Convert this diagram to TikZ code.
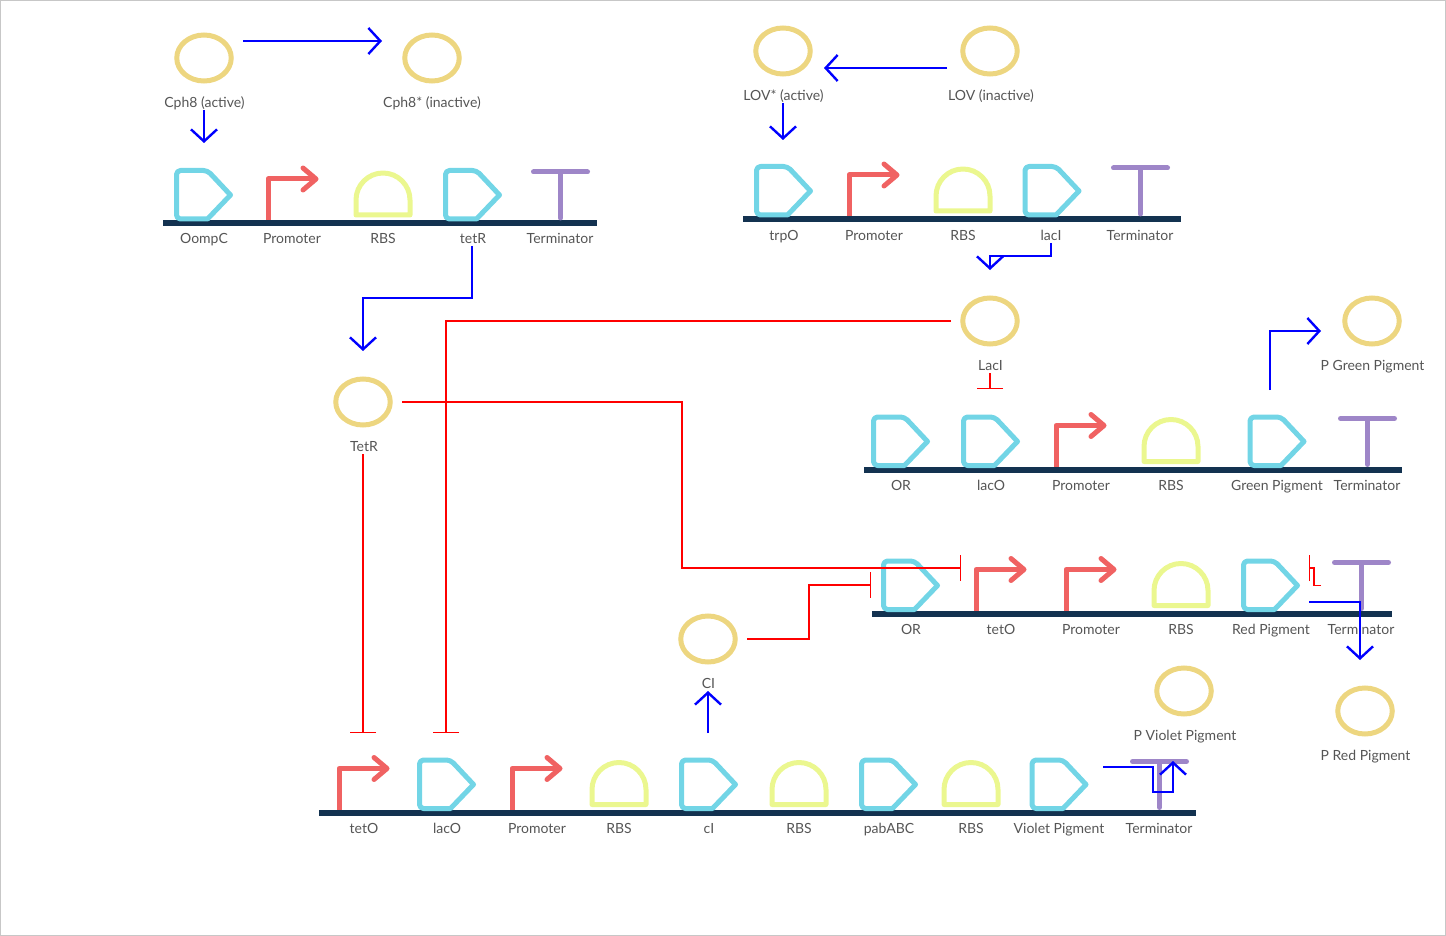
\documentclass[tikz,border=0pt]{standalone}
\usepackage{fontspec}
\setmainfont{Lato}
\usepackage{xcolor}
\usetikzlibrary{arrows.meta,shapes.geometric}

\definecolor{protcol}{HTML}{EDD680}
\definecolor{cdscol}{HTML}{72D5E6}
\definecolor{promcol}{HTML}{F06262}
\definecolor{rbscol}{HTML}{EBF78F}
\definecolor{termcol}{HTML}{9E86C8}
\definecolor{barcol}{HTML}{133250}
\definecolor{txtcol}{HTML}{555555}

\tikzset{
	protein/.style={draw=protcol,ellipse,line width=5pt,minimum width=54.5pt,minimum height=46pt,inner sep=0pt,outer sep=0pt},
	partlabel/.style={text=txtcol,font=\fontsize{14}{16}\selectfont,inner sep=0pt,text height=10pt,text depth=3pt},
	backbone/.style={barcol,line width=6pt},
	activate/.style={blue,line width=2pt,-{Straight Barb[length=12pt,width=26pt,line width=2.4pt]}},
	repress/.style={red,line width=1.7pt,-{Bar[width=26pt,line width=1.4pt]}},
	pics/cds/.style={code={
		\draw[cdscol,line width=5pt,line join=round] (31,-4) [rounded corners=4pt] -- (0,-4) -- (0,-52.5) -- (31,-52.5) [sharp corners] -- (54,-28) -- cycle;
	}},
	pics/promoter/.style={code={
		\draw[promcol,line width=5pt,line join=round] (0,-3) -- (0,-44) -- (46,-44);
		\draw[promcol,line width=5pt,line join=round,line cap=round] (35,-55) -- (48,-44) -- (35,-33);
	}},
	pics/rbs/.style={code={
		\draw[rbscol,line width=5pt,line join=round] (0,-8) -- (0,-23) arc[start angle=180,end angle=360,radius=27] -- (54,-8) -- cycle;
	}},
	pics/terminator/.style={code={
		\draw[termcol,line width=5pt,line cap=round] (-27,-51) -- (27,-51);
		\draw[termcol,line width=5pt,line cap=round] (0,-51) -- (0,-5);
	}},
}

\begin{document}
\begin{tikzpicture}[x=1pt,y=-1pt]
	\useasboundingbox (0,0) rectangle (1446,936);
	\draw[black!22,line width=1pt] (0.5,0.5) rectangle (1445.5,935.5);

	% backbones
	\draw[backbone] (163,223) -- (597,223);
	\draw[backbone] (743,219) -- (1181,219);
	\draw[backbone] (864,469.5) -- (1402,469.5);
	\draw[backbone] (872,613.5) -- (1392,613.5);
	\draw[backbone] (319,812.5) -- (1196,812.5);

	% parts
	\foreach \px/\py in {176.5/223,445.5/223,756.5/219,1025/219,873.5/469.5,963.5/469.5,1250/469.5,883.5/613.5,1243.5/613.5,419.5/812.5,681.5/812.5,861.5/812.5,1032/812.5}
		\pic at (\px,\py) {cds};
	\foreach \px/\py in {268/223,849/219,1056/469.5,976/613.5,1066/613.5,339/812.5,512/812.5}
		\pic at (\px,\py) {promoter};
	\foreach \px/\py in {356/223,936/219,1144/469.5,1154/613.5,592/812.5,772/812.5,944/812.5}
		\pic at (\px,\py) {rbs};
	\foreach \px/\py in {560.5/223,1140.5/219,1367.5/469.5,1361.5/613.5,1159.5/812.5}
		\pic at (\px,\py) {terminator};

	% part labels
	\foreach \lname/\lx/\ly/\ltext in {oompc/204/240/OompC,promA/292/240/Promoter,rbsA/383/240/RBS,tetrgene/473/240/tetR,termA/560/240/Terminator,
		trpo/784/237/trpO,promB/874/237/Promoter,rbsB/963/237/RBS,lacigene/1051/237/lacI,termB/1140/237/Terminator,
		orC/901/487/OR,lacoC/991/487/lacO,promC/1081/487/Promoter,rbsC/1171/487/RBS,greengene/1277/487/Green Pigment,termC/1367/487/Terminator,
		orD/911/631/OR,tetoD/1001/631/tetO,promD/1091/631/Promoter,rbsD/1181/631/RBS,redgene/1271/631/Red Pigment,termD/1361/631/Terminator,
		tetoE/364/830/tetO,lacoE/447/830/lacO,promE/537/830/Promoter,rbsE/619/830/RBS,cigene/709/830/cI,rbsF/799/830/RBS,pababc/889/830/pabABC,rbsG/971/830/RBS,violetgene/1059/830/Violet Pigment,termE/1159/830/Terminator}
		\node[partlabel] (\lname) at (\lx,\ly) {\ltext};

	% proteins
	\node[protein] (cphA) at (204,58) {};
	\node[protein] (cphI) at (432,58) {};
	\node[protein] (lovA) at (783,51) {};
	\node[protein] (lovI) at (990,51) {};
	\node[protein] (laci) at (990,321) {};
	\node[protein] (pgreen) at (1372,321) {};
	\node[protein] (tetr) at (363,402) {};
	\node[protein] (ci) at (708,639) {};
	\node[protein] (pviolet) at (1184,691) {};
	\node[protein] (pred) at (1365,711) {};

	\node[partlabel] (cphAlabel) at (204.5,104) {Cph8 (active)};
	\node[partlabel] (cphIlabel) at (432,104) {Cph8* (inactive)};
	\node[partlabel] (lovAlabel) at (783.5,97) {LOV* (active)};
	\node[partlabel] (lovIlabel) at (991,97) {LOV (inactive)};
	\node[partlabel] (lacilabel) at (990.5,367) {LacI};
	\node[partlabel] (pgreenlabel) at (1372.5,367) {P Green Pigment};
	\node[partlabel] (tetrlabel) at (364,448) {TetR};
	\node[partlabel] (cilabel) at (708.5,685) {CI};
	\node[partlabel] (pvioletlabel) at (1185,737) {P Violet Pigment};
	\node[partlabel] (predlabel) at (1365.5,757) {P Red Pigment};

	% free ends of the connectors
	\coordinate (cphAout) at (243,41);
	\coordinate (cphIin) at (382,41);
	\coordinate (cphAdown) at (204,110);
	\coordinate (oompcin) at (204,143);
	\coordinate (tetrgeneout) at (472,246);
	\coordinate (tetrin) at (363,351);
	\coordinate (lovIout) at (947,68);
	\coordinate (lovAin) at (824,68);
	\coordinate (lovAdown) at (783,103);
	\coordinate (trpoin) at (783,140);
	\coordinate (lacigeneout) at (1051,243);
	\coordinate (laciin) at (990,270);
	\coordinate (greenout) at (1270,390);
	\coordinate (pgreenin) at (1321,331);
	\coordinate (cigeneout) at (708,733);
	\coordinate (ciin) at (708,691);
	\coordinate (redout) at (1309,602);
	\coordinate (predin) at (1360,660);
	\coordinate (violetout) at (1103,767);
	\coordinate (pvioletin) at (1173,761);

	\coordinate (laciout) at (951,321);
	\coordinate (lacoEin) at (446,733);
	\coordinate (tetrout) at (402,402);
	\coordinate (tetoDin) at (961,568);
	\coordinate (tetrdown) at (363,454);
	\coordinate (tetoEin) at (363,733);
	\coordinate (ciout) at (747,639);
	\coordinate (orDin) at (871,585);
	\coordinate (lacidown) at (990,373);
	\coordinate (lacoCin) at (990,389);
	\coordinate (smallout) at (1321,585.5);
	\coordinate (smallin) at (1309,568);

	% activation
	\draw[activate] (cphAout) -- (cphIin);
	\draw[activate] (cphAdown) -- (oompcin);
	\draw[activate] (tetrgeneout) -- (472,298) -- (363,298) -- (tetrin);
	\draw[activate] (lovIout) -- (lovAin);
	\draw[activate] (lovAdown) -- (trpoin);
	\draw[activate] (lacigeneout) -- (1051,256) -- (990,256) -- (laciin);
	\draw[activate] (greenout) -- (1270,331) -- (pgreenin);
	\draw[activate] (cigeneout) -- (ciin);
	\draw[activate] (redout) -- (1360,602) -- (predin);
	\draw[activate] (violetout) -- (1153,767) -- (1153,792) -- (1173,792) -- (pvioletin);

	% repression
	\draw[repress] (laciout) -- (446,321) -- (lacoEin);
	\draw[repress] (tetrout) -- (682,402) -- (682,568) -- (tetoDin);
	\draw[repress] (tetrdown) -- (tetoEin);
	\draw[repress] (ciout) -- (809,639) -- (809,585) -- (orDin);
	\draw[repress] (lacidown) -- (lacoCin);
	\draw[repress] (smallout) -- (1314,585.5) -- (1314,568) -- (smallin);
\end{tikzpicture}
\end{document}
